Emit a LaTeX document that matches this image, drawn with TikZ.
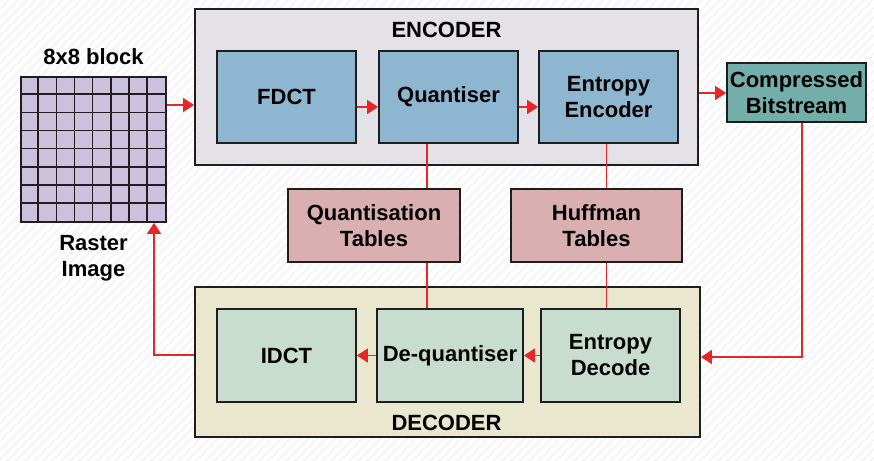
\documentclass[tikz,border=0pt]{standalone}
\usepackage{fontspec}
\setmainfont{Liberation Sans}
\usetikzlibrary{arrows.meta,calc}
\definecolor{encbg}{HTML}{E4E2E6}
\definecolor{decbg}{HTML}{E9E7CE}
\definecolor{blueb}{HTML}{8FB6D1}
\definecolor{tealb}{HTML}{74AEAA}
\definecolor{pinkb}{HTML}{D9AFB2}
\definecolor{greenb}{HTML}{C8DDCF}
\definecolor{gridc}{HTML}{CBC0DE}
\definecolor{redl}{HTML}{E8262A}
\definecolor{edge}{HTML}{1E1E1E}
\definecolor{hatch}{HTML}{F1F1F1}
\tikzset{
  box/.style={draw=edge,line width=1.8pt,inner sep=0pt,align=center,
    font=\fontsize{22}{26}\selectfont\bfseries,text=black},
  outer/.style={draw=edge,line width=1.8pt,inner sep=0pt},
  conn/.style={draw=redl,line width=1.6pt},
  arr/.style={conn,-{Triangle[length=11pt,width=14pt]}},
  lbl/.style={font=\fontsize{22}{26}\selectfont\bfseries,text=black,inner sep=0pt,align=center},
}
\begin{document}
\begin{tikzpicture}[x=1pt,y=-1pt]
\useasboundingbox (0,0) rectangle (874,460);
\fill[white] (0,0) rectangle (874,460);
\begin{scope}
\clip (0,0) rectangle (874,460);
\foreach \i in {0,9,...,1350} {
  \draw[hatch,line width=1.2pt] (\i,0) -- (\i-470,470);
}
\end{scope}
% outer blocks
\node[outer,fill=encbg,minimum width=503pt,minimum height=156pt] (enc) at (446.5,87) {};
\node[outer,fill=decbg,minimum width=505pt,minimum height=150pt] (dec) at (447.5,362) {};
\node[lbl] (enclbl) at (446.5,30) {ENCODER};
\node[lbl] (declbl) at (446.5,423) {DECODER};
% encoder stages
\node[box,fill=blueb,minimum width=139pt,minimum height=92pt] (fdct) at (286.5,97) {FDCT};
\node[box,fill=blueb,minimum width=139pt,minimum height=92pt] (quant) at (448.5,97) {Quantiser};
\node[box,fill=blueb,minimum width=139pt,minimum height=92pt] (ee) at (608.5,97) {Entropy\\Encoder};
\node[box,fill=tealb,minimum width=139pt,minimum height=59pt] (cb) at (796.5,92.5) {Compressed\\Bitstream};
% tables
\node[box,fill=pinkb,minimum width=172pt,minimum height=73pt] (qt) at (374,225.5) {Quantisation\\Tables};
\node[box,fill=pinkb,minimum width=171pt,minimum height=73pt] (ht) at (596.5,225.5) {Huffman\\Tables};
% decoder stages
\node[box,fill=greenb,minimum width=139pt,minimum height=93pt] (idct) at (286.5,355.5) {IDCT};
\node[box,fill=greenb,minimum width=146pt,minimum height=93pt] (dq) at (450,355.5) {De-quantiser};
\node[box,fill=greenb,minimum width=139pt,minimum height=93pt] (ed) at (610.5,355.5) {Entropy\\Decode};
% grid
\node[draw=edge,line width=1.8pt,fill=gridc,minimum width=145pt,minimum height=145pt,inner sep=0pt] (grid) at (93.5,149.5) {};
\foreach \k in {1,...,7} {
  \draw[edge,line width=1.6pt] ($(grid.north west)+(\k*145/8,0)$) -- ($(grid.south west)+(\k*145/8,0)$);
  \draw[edge,line width=1.6pt] ($(grid.north west)+(0,\k*145/8)$) -- ($(grid.north east)+(0,\k*145/8)$);
}
\node[lbl] (blk) at (93.5,57) {8x8 block};
\node[lbl] (rast) at (93.5,258) {Raster\\Image};
% connectors
\coordinate (g1) at ($(grid.east)+(0,-44.5)$);
\draw[arr] (g1) -- (g1 -| enc.west);
\coordinate (f1) at ($(fdct.east)+(0,10)$);
\draw[arr] (f1) -- (f1 -| quant.west);
\coordinate (q1) at ($(quant.east)+(0,10)$);
\draw[arr] (q1) -- (q1 -| ee.west);
\coordinate (e1) at ($(ee.east)+(0,-4)$);
\draw[arr] (e1 -| enc.east) -- (e1 -| cb.west);
\coordinate (qx) at ($(quant.south)+(-21.5,0)$);
\draw[conn] (qx) -- (qx |- qt.north);
\draw[conn] (qx |- qt.south) -- (qx |- dq.north);
\coordinate (hx) at ($(ee.south)+(-2,0)$);
\draw[conn] (hx) -- (hx |- ht.north);
\draw[conn] (hx |- ht.south) -- (hx |- ed.north);
\coordinate (cx) at ($(cb.south)+(5.5,0)$);
\coordinate (cy) at ($(dec.east)+(0,-5)$);
\draw[arr] (cx) -- (cx |- cy) -- (cy);
\draw[arr] (ed.west) -- (dq.east);
\draw[arr] (dq.west) -- (idct.east);
\coordinate (gx) at ($(grid.south)+(60.5,0)$);
\coordinate (dy) at ($(dec.west)+(0,-7)$);
\draw[arr] (dy) -- (dy -| gx) -- (gx);
\end{tikzpicture}
\end{document}
